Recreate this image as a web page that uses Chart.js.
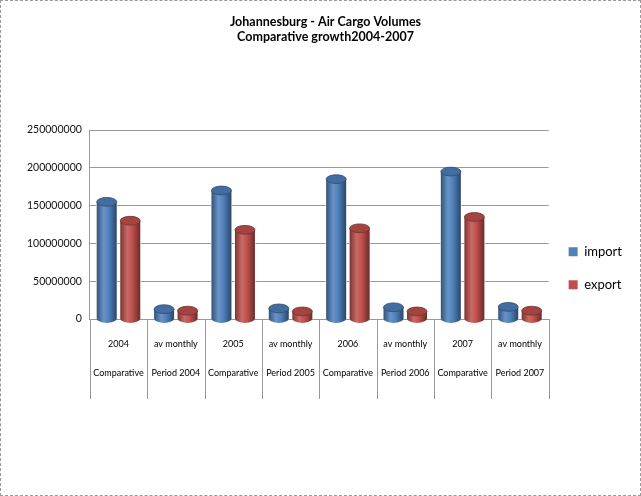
<!DOCTYPE html>
<html><head><meta charset="utf-8">
<script src="https://cdn.jsdelivr.net/npm/chart.js@4.4.0/dist/chart.umd.min.js"></script>
<style>
html,body{margin:0;padding:0;background:#fff;}
#wrap{position:absolute;left:0;top:0;width:639px;height:494px;border:1px dashed #999;}
canvas{display:block;}
</style></head>
<body><div id="wrap"><canvas id="c" width="639" height="494"></canvas></div>
<script>
const categories = [["2004","","Comparative"],["av monthly","","Period 2004"],["2005","","Comparative"],["av monthly","","Period 2005"],["2006","","Comparative"],["av monthly","","Period 2006"],["2007","","Comparative"],["av monthly","","Period 2007"]];
const importValues = [155000000, 13000000, 170000000, 14000000, 185000000, 15500000, 195000000, 16000000];
const exportValues = [130000000, 11000000, 118000000, 10000000, 120000000, 10000000, 135000000, 11000000];
const titleLines = ["Johannesburg - Air Cargo Volumes","Comparative growth2004-2007"];

function shade(hex, f){
  const n=parseInt(hex.slice(1),16);let r=n>>16,g=(n>>8)&255,b=n&255;
  if(f>0){r+= (255-r)*f; g+=(255-g)*f; b+=(255-b)*f;} else {r*=1+f; g*=1+f; b*=1+f;}
  return `rgb(${r|0},${g|0},${b|0})`;
}
const cylinder = {
  id:'cyl',
  afterDatasetsDraw(chart){
    const ctx=chart.ctx;
    chart.data.datasets.forEach((ds,di)=>{
      const meta=chart.getDatasetMeta(di);
      const base=ds.backgroundColor;
      meta.data.forEach(el=>{
        const {x,y,base:b,width:w}=el.getProps(['x','y','base','width'],true);
        const l=x-w/2, r=x+w/2, ry=w*0.22;
        const g=ctx.createLinearGradient(l,0,r,0);
        g.addColorStop(0,shade(base,-0.35));
        g.addColorStop(0.35,shade(base,0.15));
        g.addColorStop(0.6,shade(base,0));
        g.addColorStop(1,shade(base,-0.45));
        ctx.save();
        ctx.fillStyle='#fff';
        ctx.fillRect(l-0.5,y,w+1,b-y);
        ctx.fillStyle=g;
        ctx.beginPath();
        ctx.moveTo(l,y);
        ctx.lineTo(l,b);
        ctx.ellipse(x,b,w/2,ry,0,Math.PI,0,true);
        ctx.lineTo(r,y);
        ctx.closePath();
        ctx.fill();
        ctx.fillStyle=shade(base,-0.15);
        ctx.beginPath();
        ctx.ellipse(x,y,w/2,ry,0,0,Math.PI*2);
        ctx.fill();
        ctx.strokeStyle=shade(base,-0.4);
        ctx.lineWidth=0.8;
        ctx.stroke();
        ctx.restore();
      });
    });
  }
};
const separators = {
  id:'sep',
  afterDraw(chart){
    const xs=chart.scales.x, ctx=chart.ctx, top=chart.chartArea.bottom;
    const n=xs.ticks.length;
    ctx.save();
    ctx.strokeStyle='#999';ctx.lineWidth=1;
    for(let i=0;i<=n;i++){
      const px=Math.round(xs.getPixelForValue(i-0.5))+0.5;
      ctx.beginPath();ctx.moveTo(px,top);ctx.lineTo(px,top+80);ctx.stroke();
    }
    ctx.restore();
  }
};

new Chart(document.getElementById('c'),{
  type:'bar',
  data:{labels:categories,datasets:[
    {label:'import',data:importValues,backgroundColor:'#4F81BD',borderWidth:0},
    {label:'export',data:exportValues,backgroundColor:'#C0504D',borderWidth:0}
  ]},
  options:{
    responsive:false,animation:false,
    layout:{padding:{left:18,right:8,top:6,bottom:0}},
    plugins:{
      title:{display:true,text:titleLines,color:'#000',font:{family:'Lato',size:12.5,weight:'bold'},padding:{top:7,bottom:86}},
      legend:{position:'right',title:{display:true,text:' ',font:{size:12},padding:10},labels:{boxWidth:9,boxHeight:9,padding:20,color:'#000',font:{family:'Lato',size:13}}},
      tooltip:{enabled:false}
    },
    datasets:{bar:{categoryPercentage:0.82,barPercentage:0.85}},
    scales:{
      x:{
        afterFit(s){s.height=176;},
        grid:{offset:true,drawOnChartArea:false,drawTicks:false,color:'#999'},
        border:{color:'#999'},
        ticks:{padding:18,maxRotation:0,minRotation:0,autoSkip:false,color:'#000',font:{family:'Lato',size:9,lineHeight:1.6}}
      },
      y:{
        min:0,max:250000000,
        ticks:{stepSize:50000000,color:'#111',padding:8,font:{family:'Lato',size:10.5},callback:v=>String(v)},
        grid:{color:'#999',tickLength:0},
        border:{color:'#999'}
      }
    }
  },
  plugins:[cylinder,separators]
});
</script></body></html>
